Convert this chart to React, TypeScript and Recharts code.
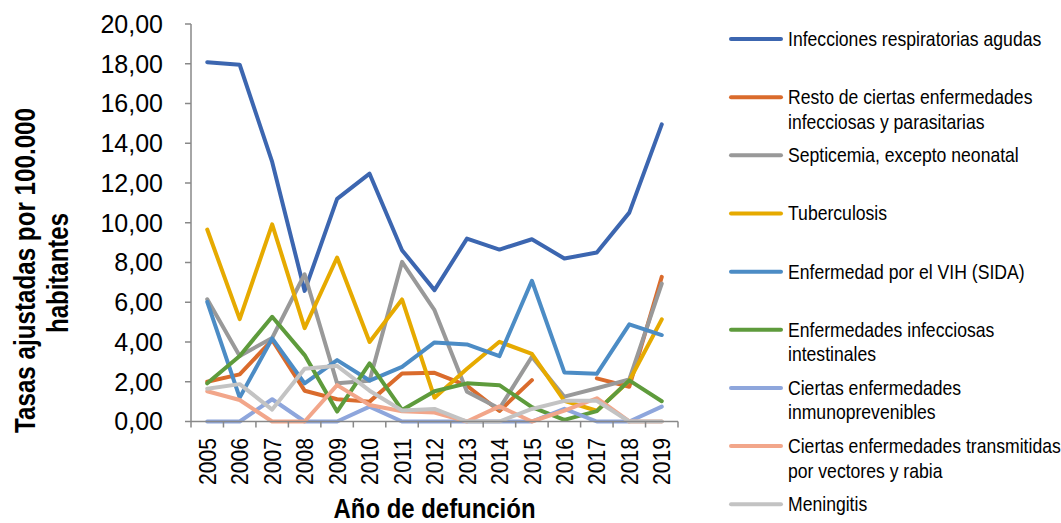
import React from "react";
import { LineChart, Line, XAxis, YAxis, Label } from "recharts";

const years = ["2005","2006","2007","2008","2009","2010","2011","2012","2013","2014","2015","2016","2017","2018","2019"];
const yTicks = [0, 2, 4, 6, 8, 10, 12, 14, 16, 18, 20];

const respiratorias = [18.08, 17.95, 13.06, 6.57, 11.2, 12.47, 8.62, 6.61, 9.2, 8.65, 9.17, 8.2, 8.5, 10.51, 14.95];
const restoInfecciosas = [2.0, 2.37, 4.1, 1.55, 1.12, 1.0, 2.42, 2.45, 1.8, 0.53, 2.08, null, 2.17, 1.75, 7.28];
const septicemia = [6.15, 3.3, 4.2, 7.41, 1.92, 2.05, 8.03, 5.6, 1.5, 0.65, 3.26, 1.25, 1.67, 2.12, 6.94];
const tuberculosis = [9.66, 5.15, 9.92, 4.7, 8.25, 4.0, 6.14, 1.2, 2.65, 4.01, 3.4, 1.04, 0.54, 2.05, 5.14];
const vih = [6.02, 1.2, 4.18, 1.92, 3.09, 2.06, 2.75, 3.98, 3.88, 3.29, 7.08, 2.47, 2.4, 4.89, 4.35];
const intestinales = [1.92, 3.3, 5.27, 3.34, 0.5, 2.92, 0.58, 1.52, 1.92, 1.83, 0.72, 0.08, 0.52, 2.07, 1.02];
const inmunoprevenibles = [0, 0, 1.12, 0, 0, 0.75, 0, 0, 0, 0, 0, 0.64, 0, 0, 0.75];
const vectores = [1.52, 1.08, 0, 0, 1.83, 0.83, 0.52, 0.45, 0, 0.76, 0, 0.55, 1.17, 0, 0];
const meningitis = [1.65, 1.88, 0.6, 2.65, 2.8, 1.55, 0.55, 0.63, 0, 0, 0.63, 1.04, 1.04, 0, 0];

const seriesNames = [
  "Infecciones respiratorias agudas",
  "Resto de ciertas enfermedades\ninfecciosas y parasitarias",
  "Septicemia, excepto neonatal",
  "Tuberculosis",
  "Enfermedad por el VIH (SIDA)",
  "Enfermedades infecciosas\nintestinales",
  "Ciertas enfermedades\ninmunoprevenibles",
  "Ciertas enfermedades transmitidas\npor vectores y rabia",
  "Meningitis",
];
const seriesValues = [respiratorias, restoInfecciosas, septicemia, tuberculosis, vih, intestinales, inmunoprevenibles, vectores, meningitis];
const seriesColors = ["#3C66B0", "#DA6B2C", "#999999", "#E6AA00", "#4C8CC5", "#5E9B3C", "#8EA6DC", "#F2A68A", "#C3C3C3"];

const data = years.map((year, i) => {
  const row: Record<string, any> = { year };
  seriesValues.forEach((vals, s) => {
    row["s" + s] = vals[i];
  });
  return row;
});

const FONT = "'Liberation Sans', Arial, sans-serif";
const CHART_W = 1061;
const CHART_H = 523;
const PLOT_LEFT = 191;
const PLOT_RIGHT = 678;
const PLOT_TOP = 24;
const PLOT_BOTTOM = 421.5;
const BAND = (PLOT_RIGHT - PLOT_LEFT) / years.length;
const AXIS_COLOR = "#888888";
const LEGEND_SCALE = 0.88;

const XTick = (props: any) => {
  const { x, payload, index } = props;
  const left = x - BAND / 2;
  const right = x + BAND / 2;
  const ty = PLOT_BOTTOM + 16.5;
  return (
    <g>
      <line x1={left} y1={PLOT_BOTTOM} x2={left} y2={PLOT_BOTTOM + 6} stroke={AXIS_COLOR} strokeWidth={1.5} />
      {index === years.length - 1 && (
        <line x1={right} y1={PLOT_BOTTOM} x2={right} y2={PLOT_BOTTOM + 6} stroke={AXIS_COLOR} strokeWidth={1.5} />
      )}
      <text
        x={x}
        y={ty}
        transform={`rotate(-90, ${x}, ${ty})`}
        textAnchor="end"
        dy="0.36em"
        fontSize={24}
        fontFamily={FONT}
        fill="#000"
        textLength={47}
        lengthAdjust="spacingAndGlyphs"
      >
        {payload.value}
      </text>
    </g>
  );
};

const Legend = () => (
  <svg
    width={CHART_W}
    height={CHART_H}
    style={{ position: "absolute", left: 0, top: 0, pointerEvents: "none" }}
  >
    {seriesNames.map((name, i) => {
      const center = 39 + i * 58.16;
      const lines = name.split("\n");
      return (
        <g key={i}>
          <line
            x1={731}
            y1={center}
            x2={781}
            y2={center}
            stroke={seriesColors[i]}
            strokeWidth={4}
            strokeLinecap="round"
          />
          <g transform={`translate(788, ${center}) scale(${LEGEND_SCALE}, 1)`}>
            {lines.map((l, k) => (
              <text key={k} x={0} y={k * 24.5} dy="0.35em" fontSize={20} fontFamily={FONT} fill="#000">
                {l}
              </text>
            ))}
          </g>
        </g>
      );
    })}
  </svg>
);

export default function App() {
  return (
    <div style={{ position: "absolute", left: 0, top: 0, width: CHART_W, height: CHART_H, background: "#fff" }}>
      <LineChart
        width={CHART_W}
        height={CHART_H}
        data={data}
        margin={{ top: PLOT_TOP, right: CHART_W - PLOT_RIGHT, bottom: 0, left: 0 }}
      >
        <XAxis
          dataKey="year"
          scale="band"
          interval={0}
          height={CHART_H - PLOT_BOTTOM}
          tickLine={false}
          axisLine={{ stroke: AXIS_COLOR, strokeWidth: 1.5 }}
          tick={<XTick />}
        >
          <Label
            content={() => (
              <text
                x={(PLOT_LEFT + PLOT_RIGHT) / 2}
                y={518}
                textAnchor="middle"
                fontSize={28}
                fontWeight="bold"
                fontFamily={FONT}
                fill="#000"
                textLength={202}
                lengthAdjust="spacingAndGlyphs"
              >
                Año de defunción
              </text>
            )}
          />
        </XAxis>
        <YAxis
          width={PLOT_LEFT}
          domain={[0, 20]}
          ticks={yTicks}
          interval={0}
          tickSize={6}
          tickMargin={22}
          tickFormatter={(v: number) => v.toFixed(2).replace(".", ",")}
          tick={{ fontSize: 25, fill: "#000", fontFamily: FONT }}
          tickLine={{ stroke: AXIS_COLOR, strokeWidth: 1.5 }}
          axisLine={{ stroke: AXIS_COLOR, strokeWidth: 1.5 }}
        >
          <Label
            content={() => (
              <g>
                <text
                  x={35}
                  y={270.5}
                  transform="rotate(-90, 35, 270.5)"
                  textAnchor="middle"
                  fontSize={29}
                  fontWeight="bold"
                  fontFamily={FONT}
                  fill="#000"
                  textLength={325}
                  lengthAdjust="spacingAndGlyphs"
                >
                  Tasas ajustadas por 100.000
                </text>
                <text
                  x={68}
                  y={273}
                  transform="rotate(-90, 68, 273)"
                  textAnchor="middle"
                  fontSize={29}
                  fontWeight="bold"
                  fontFamily={FONT}
                  fill="#000"
                  textLength={120}
                  lengthAdjust="spacingAndGlyphs"
                >
                  habitantes
                </text>
              </g>
            )}
          />
        </YAxis>
        {seriesNames.map((name, s) => (
          <Line
            key={s}
            type="linear"
            dataKey={"s" + s}
            name={name}
            stroke={seriesColors[s]}
            strokeWidth={4}
            strokeLinejoin="round"
            strokeLinecap="round"
            dot={false}
            connectNulls={false}
            isAnimationActive={false}
          />
        ))}
      </LineChart>
      <Legend />
    </div>
  );
}
